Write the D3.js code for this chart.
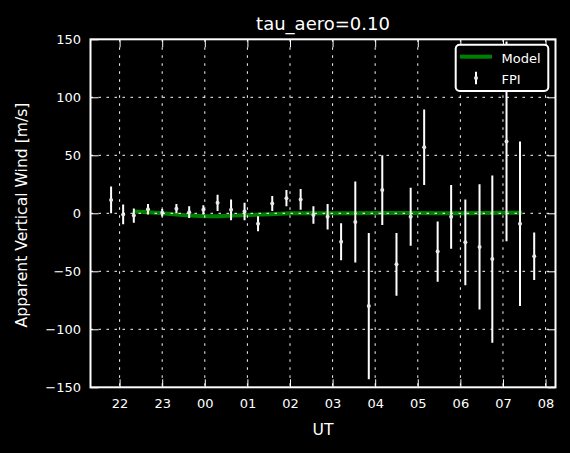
<!DOCTYPE html>
<html><head><meta charset="utf-8">
<script src="https://cdn.jsdelivr.net/npm/d3@7"></script>
<style>
html,body{margin:0;padding:0;background:#000;}
svg{display:block;font-family:"DejaVu Sans",sans-serif;}
</style></head>
<body>
<script>
const title = "tau_aero=0.10";
const xLabel = "UT";
const yLabel = "Apparent Vertical Wind [m/s]";
const yTicks = [-150, -100, -50, 0, 50, 100, 150];

const fpiTimes = ["21:48","22:05","22:20","22:40","23:00","23:20","23:38","23:58","00:18","00:37","00:56","01:15","01:35","01:55","02:15","02:33","02:53","03:12","03:32","03:51","04:10","04:30","04:50","05:09","05:28","05:47","06:07","06:27","06:45","07:05","07:24","07:44"];
const fpiValues = [11.5, -1, -2, 3.5, 0.5, 4, 1, 3, 9, 3, 1.5, -9, 8.5, 13, 12, -1.5, -3, -24.5, -7.5, -80, 20, -44, -3, 57, -33, -3, -25, -29, -39.5, 62, -9, -37];
const fpiErrors = [11.5, 8.5, 6.2, 4.5, 3.2, 4, 5, 4, 7, 9, 7.5, 6.5, 6.5, 7, 9, 7.5, 11, 16, 35, 63, 30, 27, 25, 32.5, 26, 27.5, 37, 54, 72, 86, 71, 20.5];

const modelTimes = ["22:20","22:40","23:00","23:20","23:40","00:00","00:20","00:40","01:00","01:20","01:40","02:00","02:30","03:00","03:30","04:00","04:30","05:00","05:30","06:00","06:30","07:00","07:27"];
const modelValues = [1.5, 1, 0, -1, -2, -2.5, -2.5, -2, -1.5, -1, -0.5, 0, 0, 0, 0, 0.2, 0.2, 0.2, 0, 0, 0.2, 0.5, 0.5];

const xStart = "21:19", xEnd = "08:14";

function toDate(s){
  const [h,m] = s.split(":").map(Number);
  const day = h >= 12 ? 1 : 2;
  return new Date(Date.UTC(2000,0,day,h,m));
}

const W = 570, H = 453;
const L = 90.5, R = 555.5, T = 39.3, B = 387.3;

const svg = d3.select("body").append("svg").attr("width",W).attr("height",H);
svg.append("rect").attr("width",W).attr("height",H).attr("fill","#000");

const x = d3.scaleUtc().domain([toDate(xStart), toDate(xEnd)]).range([L,R]);
const y = d3.scaleLinear().domain([-150,150]).range([B,T]);

const clipId = "plotclip";
svg.append("clipPath").attr("id",clipId).append("rect")
  .attr("x",L).attr("y",T).attr("width",R-L).attr("height",B-T);
const plot = svg.append("g").attr("clip-path",`url(#${clipId})`);

// Model line
const modelData = modelTimes.map((t,i)=>({t:toDate(t), v:modelValues[i]}));
plot.append("path").datum(modelData)
  .attr("fill","none").attr("stroke","#008000").attr("stroke-width",4)
  .attr("stroke-linejoin","round")
  .attr("d", d3.line().x(d=>x(d.t)).y(d=>y(d.v)));

// FPI error bars
const fpiData = fpiTimes.map((t,i)=>({t:toDate(t), v:fpiValues[i], e:fpiErrors[i]}));
plot.selectAll("line.err").data(fpiData).enter().append("line")
  .attr("class","err")
  .attr("x1",d=>x(d.t)).attr("x2",d=>x(d.t))
  .attr("y1",d=>y(d.v+d.e)).attr("y2",d=>y(d.v-d.e))
  .attr("stroke","#fff").attr("stroke-width",2);
plot.selectAll("circle.pt").data(fpiData).enter().append("circle")
  .attr("class","pt")
  .attr("cx",d=>x(d.t)).attr("cy",d=>y(d.v)).attr("r",2)
  .attr("fill","#e8e8e8");

// Grid
const xTickVals = x.ticks(d3.utcHour.every(1));
const grid = svg.append("g");
grid.selectAll("line.gx").data(xTickVals).enter().append("line")
  .attr("x1",d=>x(d)).attr("x2",d=>x(d)).attr("y1",T).attr("y2",B)
  .attr("stroke","#fff").attr("stroke-width",1).attr("stroke-dasharray","2.5,5.5");
grid.selectAll("line.gy").data(yTicks.filter(v=>v>-150 && v<150)).enter().append("line")
  .attr("x1",L).attr("x2",R).attr("y1",d=>y(d)).attr("y2",d=>y(d))
  .attr("stroke","#fff").attr("stroke-width",1).attr("stroke-dasharray","2.5,5.5");

// Axes (ticks inward, labels)
const fmt = d3.utcFormat("%H");
const xAxis = svg.append("g").attr("transform",`translate(0,${B})`)
  .call(d3.axisBottom(x).tickValues(xTickVals).tickFormat(fmt).tickSizeInner(-8).tickSizeOuter(0).tickPadding(14));
const xAxisTop = svg.append("g").attr("transform",`translate(0,${T})`)
  .call(d3.axisTop(x).tickValues(xTickVals).tickFormat("").tickSizeInner(-8).tickSizeOuter(0));
const yAxis = svg.append("g").attr("transform",`translate(${L},0)`)
  .call(d3.axisLeft(y).tickValues(yTicks).tickFormat(d=>String(d).replace("-","\u2212")).tickSizeInner(-8).tickSizeOuter(0).tickPadding(10));
const yAxisR = svg.append("g").attr("transform",`translate(${R},0)`)
  .call(d3.axisRight(y).tickValues(yTicks).tickFormat("").tickSizeInner(-8).tickSizeOuter(0));
[xAxis,xAxisTop,yAxis,yAxisR].forEach(g=>{
  g.select(".domain").remove();
  g.selectAll(".tick line").attr("stroke","#fff").attr("stroke-width",1);
  g.selectAll(".tick text").attr("fill","#fff").attr("font-size",13).attr("font-family","DejaVu Sans");
});
xAxis.selectAll(".tick text").attr("dy","0.71em").attr("y",11);
yAxis.selectAll(".tick text").attr("x",-9.5);

// Spines
svg.append("rect").attr("x",L).attr("y",T).attr("width",R-L).attr("height",B-T)
  .attr("fill","none").attr("stroke","#fff").attr("stroke-width",2);

// Title and labels
svg.append("text").attr("x",(L+R)/2).attr("y",30).attr("text-anchor","middle")
  .attr("fill","#fff").attr("font-size",18).text(title);
svg.append("text").attr("x",(L+R)/2).attr("y",435).attr("text-anchor","middle")
  .attr("fill","#fff").attr("font-size",15.6).text(xLabel);
svg.append("text").attr("transform","translate(27,215) rotate(-90)").attr("text-anchor","middle")
  .attr("fill","#fff").attr("font-size",15.6).text(yLabel);

// Legend
const lg = svg.append("g");
lg.append("rect").attr("x",455.7).attr("y",44.7).attr("width",92.6).attr("height",46.3)
  .attr("rx",4).attr("fill","#000").attr("stroke","#fff").attr("stroke-width",2);
lg.append("line").attr("x1",460).attr("x2",492).attr("y1",56.7).attr("y2",56.7)
  .attr("stroke","#008000").attr("stroke-width",4);
lg.append("text").attr("x",501.5).attr("y",63).attr("fill","#fff").attr("font-size",13).text("Model");
lg.append("line").attr("x1",476).attr("x2",476).attr("y1",71.7).attr("y2",84.3)
  .attr("stroke","#fff").attr("stroke-width",2);
lg.append("circle").attr("cx",476).attr("cy",78).attr("r",2).attr("fill","#e8e8e8");
lg.append("text").attr("x",501.5).attr("y",83.5).attr("fill","#fff").attr("font-size",13).text("FPI");
</script>
</body></html>
